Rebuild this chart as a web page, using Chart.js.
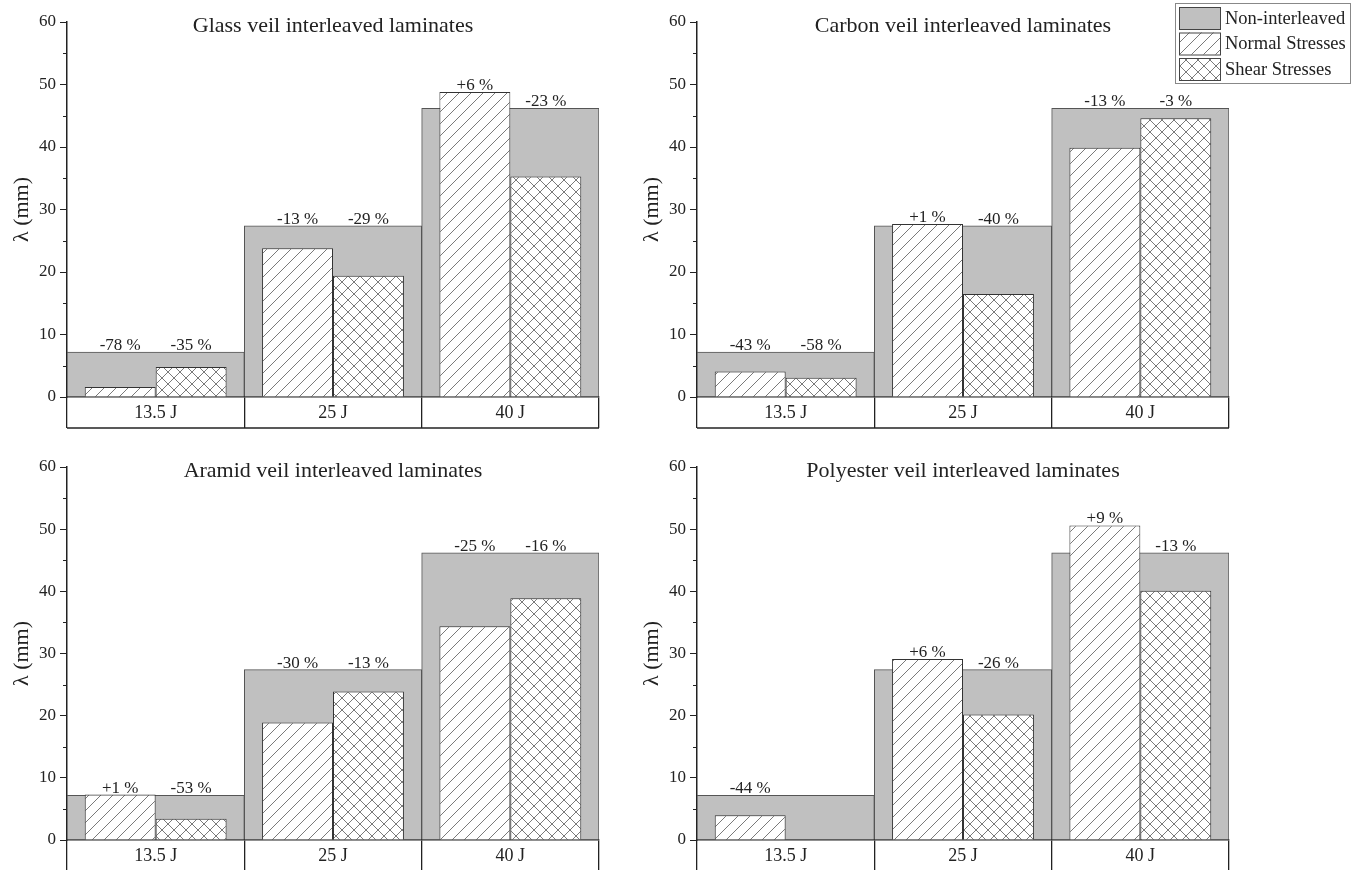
<!DOCTYPE html>
<html><head><meta charset="utf-8">
<script src="https://cdn.jsdelivr.net/npm/chart.js@4.4.0/dist/chart.umd.min.js"></script>
<style>
html,body{margin:0;padding:0;background:#fff;}
body{width:1354px;height:870px;position:relative;overflow:hidden;}
.p{position:absolute;}
</style></head><body>
<div class="p" style="left:0;top:0"><canvas id="c1" width="610" height="440"></canvas></div>
<div class="p" style="left:610px;top:0"><canvas id="c2" width="744" height="440"></canvas></div>
<div class="p" style="left:0;top:440px"><canvas id="c3" width="610" height="440"></canvas></div>
<div class="p" style="left:610px;top:440px"><canvas id="c4" width="744" height="440"></canvas></div>
<script>
// ---- data ----
const categories = ['13.5 J', '25 J', '40 J'];
const yTicks = [0, 10, 20, 30, 40, 50, 60];
const nonInterleaved = [7.2, 27.4, 46.2];

const glassNormal = [1.6, 23.8, 48.8];
const glassShear = [4.8, 19.4, 35.3];
const glassNormalPct = ['-78 %', '-13 %', '+6 %'];
const glassShearPct = ['-35 %', '-29 %', '-23 %'];

const carbonNormal = [4.1, 27.7, 39.9];
const carbonShear = [3.1, 16.5, 44.6];
const carbonNormalPct = ['-43 %', '+1 %', '-13 %'];
const carbonShearPct = ['-58 %', '-40 %', '-3 %'];

const aramidNormal = [7.3, 18.9, 34.4];
const aramidShear = [3.4, 23.9, 38.9];
const aramidNormalPct = ['+1 %', '-30 %', '-25 %'];
const aramidShearPct = ['-53 %', '-13 %', '-16 %'];

const polyNormal = [4.0, 29.1, 50.6];
const polyShear = [null, 20.2, 40.1];
const polyNormalPct = ['-44 %', '+6 %', '+9 %'];
const polyShearPct = [null, '-26 %', '-13 %'];

const legendLabels = ['Non-interleaved', 'Normal Stresses', 'Shear Stresses'];
const panelTitles = ['Glass veil interleaved laminates', 'Carbon veil interleaved laminates',
  'Aramid veil interleaved laminates', 'Polyester veil interleaved laminates'];

// ---- styles ----
const FONT = "'Liberation Serif', 'Times New Roman', serif";
const GRAY = '#c0c0c0';
const DARK = '#222';
Chart.defaults.font.family = FONT;
Chart.defaults.color = DARK;

function hatch(cross) {
  const s = 12;
  const c = document.createElement('canvas');
  c.width = s; c.height = s;
  const g = c.getContext('2d');
  g.fillStyle = '#fff'; g.fillRect(0, 0, s, s);
  g.strokeStyle = '#7a7a7a'; g.lineWidth = 1;
  g.beginPath();
  g.moveTo(-2, s + 2); g.lineTo(s + 2, -2);
  g.moveTo(-2, 2); g.lineTo(2, -2);
  g.moveTo(s - 2, s + 2); g.lineTo(s + 2, s - 2);
  if (cross) {
    g.moveTo(-2, -2); g.lineTo(s + 2, s + 2);
    g.moveTo(s - 2, -2); g.lineTo(s + 2, 2);
    g.moveTo(-2, s - 2); g.lineTo(2, s + 2);
  }
  g.stroke();
  return c;
}
const diagCanvas = hatch(false);
const crossCanvas = hatch(true);

const panelPlugin = {
  id: 'panelPlugin',
  afterDatasetsDraw(chart, args, opts) {
    const ctx = chart.ctx;
    const {left, right, top, bottom} = chart.chartArea;
    const x = chart.scales.x, y = chart.scales.y;
    ctx.save();
    // minor ticks
    ctx.strokeStyle = DARK; ctx.lineWidth = 1;
    for (let v = 5; v < 60; v += 10) {
      const py = Math.round(y.getPixelForValue(v)) + 0.5;
      ctx.beginPath(); ctx.moveTo(left - 4, py); ctx.lineTo(left, py); ctx.stroke();
    }
    // bottom line of category box
    const bx = x.getPixelForValue(-0.5), ex = x.getPixelForValue(categories.length - 0.5);
    ctx.lineWidth = 1.3;
    ctx.beginPath(); ctx.moveTo(bx, bottom + 31); ctx.lineTo(ex, bottom + 31); ctx.stroke();
    // percentage labels
    const gMeta = chart.getDatasetMeta(0);
    ctx.fillStyle = DARK;
    ctx.font = "17px " + FONT;
    ctx.textAlign = 'center'; ctx.textBaseline = 'alphabetic';
    [1, 2].forEach(di => {
      const meta = chart.getDatasetMeta(di);
      const pct = chart.data.datasets[di].pct;
      meta.data.forEach((el, i) => {
        if (!pct[i]) return;
        const topY = Math.min(el.y, gMeta.data[i].y);
        ctx.fillText(pct[i], el.x, topY - 2);
      });
    });
    // panel title
    ctx.font = "22px " + FONT;
    ctx.textBaseline = 'middle';
    ctx.fillText(opts.title, (left + right) / 2, top + 4);
    // legend
    if (opts.legend) {
      const lx = right - 54, ly = 3, lw = 175, lh = 80;
      ctx.strokeStyle = '#888'; ctx.lineWidth = 1;
      ctx.fillStyle = '#fff';
      ctx.fillRect(lx, ly, lw, lh);
      ctx.strokeRect(lx + 0.5, ly + 0.5, lw, lh);
      const fills = [GRAY, ctx.createPattern(diagCanvas, 'repeat'), ctx.createPattern(crossCanvas, 'repeat')];
      legendLabels.forEach((t, i) => {
        const sy = ly + 4 + i * 25.5;
        ctx.fillStyle = fills[i];
        ctx.fillRect(lx + 4, sy, 41, 22);
        ctx.strokeStyle = '#444';
        ctx.strokeRect(lx + 4.5, sy + 0.5, 41, 22);
        ctx.fillStyle = DARK;
        ctx.font = "18.5px " + FONT;
        ctx.textAlign = 'left'; ctx.textBaseline = 'middle';
        ctx.fillText(t, lx + 50, sy + 12);
      });
    }
    ctx.restore();
  }
};

function makePanel(id, title, normal, shear, normalPct, shearPct, pad, legend) {
  const ctx = document.getElementById(id).getContext('2d');
  return new Chart(ctx, {
    type: 'bar',
    data: {
      labels: categories,
      datasets: [
        { label: legendLabels[0], data: nonInterleaved, backgroundColor: GRAY,
          borderColor: '#555', borderWidth: 1, grouped: false,
          barPercentage: 1, categoryPercentage: 1, order: 3 },
        { label: legendLabels[1], data: normal, pct: normalPct,
          backgroundColor: ctx.createPattern(diagCanvas, 'repeat'),
          borderColor: '#333', borderWidth: 1,
          barPercentage: 1, categoryPercentage: 0.8, order: 1 },
        { label: legendLabels[2], data: shear, pct: shearPct,
          backgroundColor: ctx.createPattern(crossCanvas, 'repeat'),
          borderColor: '#333', borderWidth: 1,
          barPercentage: 1, categoryPercentage: 0.8, order: 2 }
      ]
    },
    options: {
      responsive: false, animation: false,
      layout: { padding: pad },
      plugins: { legend: { display: false }, tooltip: { enabled: false },
        panelPlugin: { title: title, legend: legend } },
      scales: {
        x: {
          offset: true,
          grid: { offset: true, drawOnChartArea: false, drawTicks: true, tickLength: 31,
                  color: DARK, lineWidth: 1.3 },
          border: { display: true, color: DARK, width: 1.5 },
          ticks: { padding: -26, font: { size: 18 }, color: DARK, maxRotation: 0 },
          afterFit: s => { s.height = 31; }
        },
        y: {
          min: 0, max: 60,
          afterBuildTicks: s => { s.ticks = yTicks.map(v => ({ value: v })); },
          grid: { drawOnChartArea: false, drawTicks: true, tickLength: 7, color: DARK, lineWidth: 1 },
          border: { display: true, color: DARK, width: 1.5 },
          ticks: { padding: 4, font: { size: 17 }, color: DARK },
          title: { display: true, text: 'λ (mm)', font: { size: 22 }, color: DARK, padding: { top: 9, bottom: 0 } },
          afterFit: s => { s.width = 67; }
        }
      }
    },
    plugins: [panelPlugin]
  });
}

makePanel('c1', panelTitles[0], glassNormal, glassShear, glassNormalPct, glassShearPct,
  { left: 0, right: 11, top: 22, bottom: 12 }, false);
makePanel('c2', panelTitles[1], carbonNormal, carbonShear, carbonNormalPct, carbonShearPct,
  { left: 20, right: 125, top: 22, bottom: 12 }, true);
makePanel('c3', panelTitles[2], aramidNormal, aramidShear, aramidNormalPct, aramidShearPct,
  { left: 0, right: 11, top: 27, bottom: 9 }, false);
makePanel('c4', panelTitles[3], polyNormal, polyShear, polyNormalPct, polyShearPct,
  { left: 20, right: 125, top: 27, bottom: 9 }, false);
</script>
</body></html>
